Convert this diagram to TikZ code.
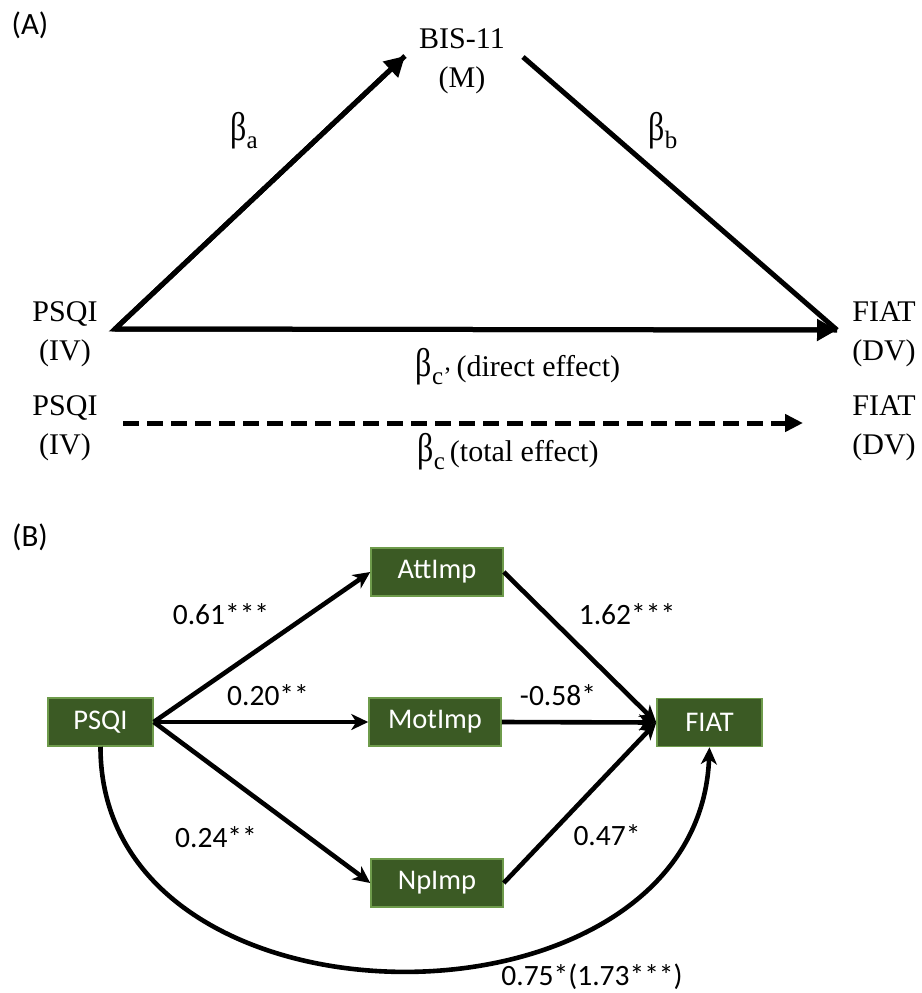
\documentclass[tikz,border=0pt]{standalone}
\usepackage{fontspec}
\setmainfont{Liberation Serif}
\newfontfamily\calib{Carlito}
\usetikzlibrary{arrows.meta}
\definecolor{boxgreen}{HTML}{3B5A24}
\definecolor{boxedge}{HTML}{6E9B4B}
\newcommand\betasub[1]{\scalebox{0.8}[1]{\fontsize{40}{40}\selectfont β}\raisebox{-8pt}{\fontsize{25}{25}\selectfont #1}}
\begin{document}
\begin{tikzpicture}[x=1pt,y=-1pt,
  serif/.style={font=\fontsize{30}{39}\selectfont, align=center, inner sep=0pt},
  blab/.style={font=\fontsize{30}{30}\selectfont, inner sep=0pt},
  arrA/.style={line width=5pt, -{Triangle[length=20pt,width=21pt]}},
  lineA/.style={line width=5pt},
  dashA/.style={line width=5pt, dash pattern=on 16pt off 8pt, -{Triangle[length=18pt,width=17pt]}},
  gbox/.style={fill=boxgreen, draw=boxedge, line width=1.5pt, text=white,
    font=\calib\fontsize{28.5}{28.5}\selectfont, minimum height=48pt, inner sep=0pt},
  arrB/.style={line width=4.6pt, -{Stealth[length=17pt,width=16pt,inset=5pt]}},
  lbl/.style={font=\calib\fontsize{29.5}{29.5}\selectfont, inner sep=0pt},
  panel/.style={font=\calib\fontsize{31}{31}\selectfont, inner sep=0pt}]
\useasboundingbox (0,0) rectangle (921,993);

% ---------- Panel A ----------
\node[panel] (pa) at (30,25) {(A)};
\node[serif] (bis) at (462,61) {BIS-11\\(M)};
\node[serif] (psqiA) at (65,334) {PSQI\\(IV)};
\node[serif] (fiatA) at (884,334) {FIAT\\(DV)};
\node[serif] (psqiA2) at (65,428) {PSQI\\(IV)};
\node[serif] (fiatA2) at (884,428) {FIAT\\(DV)};

\coordinate (a1) at (115,329);
\coordinate (a2) at (405,56);
\coordinate (b1) at (523,57);
\coordinate (a3) at (837,330);
\coordinate (d1) at (123,423);
\coordinate (d2) at (803,423);

\draw[lineA, line join=miter] (a2) -- (a1) -- (a3);
\draw[arrA] (a1) -- (a2);
\draw[arrA] (a1) -- (a3);
\draw[lineA] (b1) -- (a3);
\draw[dashA] (d1) -- (d2);

\node[blab] (ba) at (244,131) {\betasub{a}};
\node[blab] (bb) at (663,131) {\betasub{b}};
\node[blab] (bcp) at (518,367) {\betasub{c'}\,(direct effect)};
\node[blab] (bc) at (508,452) {\betasub{c}\,(total effect)};

% ---------- Panel B ----------
\node[panel] (pb) at (30,537) {(B)};
\node[gbox, minimum width=105pt] (psqiB) at (100.5,722) {PSQI};
\node[gbox, minimum width=132pt] (att) at (437,572) {AttImp};
\node[gbox, minimum width=132pt] (mot) at (435,722) {MotImp};
\node[gbox, minimum width=105pt] (fiatB) at (709.5,722.5) {FIAT};
\node[gbox, minimum width=132pt] (np) at (437,883) {NpImp};

\draw[arrB] (psqiB.east) -- (att.west);
\draw[arrB] (psqiB.east) -- (mot.west);
\draw[arrB] (psqiB.east) -- (np.west);
\draw[arrB] (att.east) -- (fiatB.west);
\draw[arrB] (mot.east) -- (fiatB.west);
\draw[arrB] (np.east) -- (fiatB.west);
\draw[arrB] (psqiB.south) .. controls (100,1045) and (698,1045) .. (fiatB.south);

\node[lbl] (l1) at (221,614) {0.61***};
\node[lbl] (l2) at (268,695) {0.20**};
\node[lbl] (l3) at (627,614) {1.62***};
\node[lbl] (l4) at (558,695) {-0.58*};
\node[lbl] (l5) at (216,837) {0.24**};
\node[lbl] (l6) at (607,835) {0.47*};
\node[lbl] (l7) at (592,977) {0.75*(1.73***)};
\end{tikzpicture}
\end{document}
